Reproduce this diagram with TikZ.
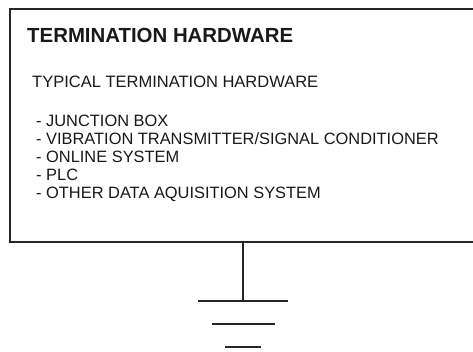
\documentclass[tikz,border=0pt]{standalone}
\usepackage{fontspec}
\setmainfont{Liberation Sans}
\begin{document}
\begin{tikzpicture}[x=1pt,y=-1pt,
  frame/.style={draw=black!85, line width=2.2pt},
  gnd/.style={draw=black!85, line width=2pt},
  title/.style={anchor=base west, inner sep=0pt, font=\fontsize{20.4}{24}\selectfont\bfseries, text=black!90},
  sub/.style={anchor=base west, inner sep=0pt, font=\fontsize{16.5}{19}\selectfont, text=black!90},
  item/.style={anchor=base west, inner sep=0pt, font=\fontsize{16.4}{19}\selectfont, text=black!90}]
\useasboundingbox (0,0) rectangle (473,351);
\clip (0,0) rectangle (473,351);
\fill[white] (0,0) rectangle (473,351);
\node[frame, rectangle, inner sep=0pt, minimum width=480pt, minimum height=233.5pt, anchor=north west] (box) at (8.5,7.5) {};
\node[title] (t) at (27,42) {TERMINATION HARDWARE};
\node[sub] (s) at (32,87) {TYPICAL TERMINATION HARDWARE};
\node[item] (i1) at (36,126.5) {- JUNCTION BOX};
\node[item] (i2) at (36,144) {- VIBRATION TRANSMITTER/SIGNAL CONDITIONER};
\node[item] (i3) at (36,162) {- ONLINE SYSTEM};
\node[item] (i4) at (36,180) {- PLC};
\node[item] (i5) at (36,198) {- OTHER DATA AQUISITION SYSTEM};
\coordinate (top) at (243.3,241);
\coordinate (g1) at (243.3,300.5);
\coordinate (g1l) at (198,300.5);
\coordinate (g1r) at (288,300.5);
\coordinate (g2l) at (212,324);
\coordinate (g2r) at (275,324);
\coordinate (g3l) at (225,347);
\coordinate (g3r) at (261,347);
\draw[gnd] (top) -- (g1);
\draw[gnd] (g1l) -- (g1r);
\draw[gnd] (g2l) -- (g2r);
\draw[gnd] (g3l) -- (g3r);
\end{tikzpicture}
\end{document}
